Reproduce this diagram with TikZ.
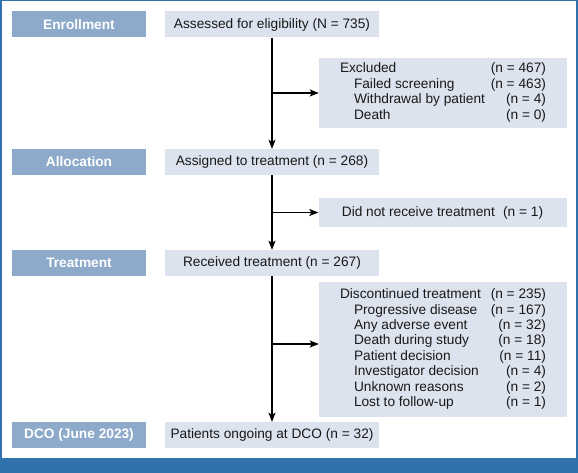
\documentclass[tikz,border=0pt]{standalone}
\usepackage{fontspec}
\setmainfont{Liberation Sans}
\usetikzlibrary{arrows.meta}
\definecolor{stageblue}{HTML}{8DAACB}
\definecolor{boxblue}{HTML}{DCE3EE}
\definecolor{frameblue}{HTML}{2F72AE}
\newcommand{\flowfont}{\fontsize{13.7}{15.4}\selectfont}
\newcommand{\sub}{\hspace*{14pt}}

\begin{document}
\begin{tikzpicture}[x=1pt, y=-1pt,
	every node/.style={font=\flowfont, text=black!90},
	stage/.style={fill=stageblue, text=white, font=\flowfont\bfseries, minimum width=134pt, minimum height=26pt, inner sep=0pt},
	mainbox/.style={fill=boxblue, minimum width=214pt, minimum height=26pt, inner sep=0pt},
	sidebox/.style={fill=boxblue, minimum width=248pt, inner sep=0pt},
	flow/.style={line width=1.3pt, -{Stealth[length=9pt, width=7pt, inset=2pt]}}]
	% frame
	\fill[white] (0,0) rectangle (578,473);
	\fill[frameblue] (0,0) rectangle (578,1);
	\fill[frameblue] (0,0) rectangle (2,458);
	\fill[frameblue] (576,0) rectangle (578,458);
	\fill[frameblue] (0,458) rectangle (578,473);
	
	% stages on the left
	\foreach \y/\name/\txt in {
		24.5/enroll/Enrollment,
		162/alloc/Allocation,
		263/treat/Treatment,
		435/dco/{DCO (June 2023)}
	}
	{
		\node[stage] (\name) at (79,\y) {\txt};
	}
	
	\node[mainbox] (assess) at (272,24.5) {Assessed for eligibility (N = 735)};
	\node[mainbox] (assign) at (272,162) {Assigned to treatment (n = 268)};
	\node[mainbox] (receive) at (272,263) {Received treatment (n = 267)};
	\node[mainbox] (ongoing) at (272,435) {Patients ongoing at DCO (n = 32)};
	
	\node[sidebox, minimum height=70pt] (excl) at (443,93) {%
		\begin{tabular*}{206pt}{@{}l@{\extracolsep{\fill}}r@{}}
			Excluded & (n = 467)\\
			\sub Failed screening & (n = 463)\\
			\sub Withdrawal by patient & (n = 4)\\
			\sub Death & (n = 0)
		\end{tabular*}};
	\node[sidebox, minimum height=29pt] (norx) at (442.5,212.5) {Did not receive treatment\hspace{0.6em}(n = 1)};
	\node[sidebox, minimum height=135pt] (disc) at (443,349.5) {%
		\begin{tabular*}{206pt}{@{}l@{\extracolsep{\fill}}r@{}}
			Discontinued treatment & (n = 235)\\
			\sub Progressive disease & (n = 167)\\
			\sub Any adverse event & (n = 32)\\
			\sub Death during study & (n = 18)\\
			\sub Patient decision & (n = 11)\\
			\sub Investigator decision & (n = 4)\\
			\sub Unknown reasons & (n = 2)\\
			\sub Lost to follow-up & (n = 1)
		\end{tabular*}};
	\coordinate (discin) at ([yshift=5.5pt]disc.west);
	
	% arrows
	\draw[flow] (assess) -- (assign);
	\draw[flow] (assess |- excl.west) -- (excl.west);
	\draw[flow] (assign) -- (receive);
	\draw[flow] (assign |- norx.west) -- (norx.west);
	\draw[flow] (receive) -- (ongoing);
	\draw[flow] (receive |- discin) -- (discin);
\end{tikzpicture}
\end{document}
